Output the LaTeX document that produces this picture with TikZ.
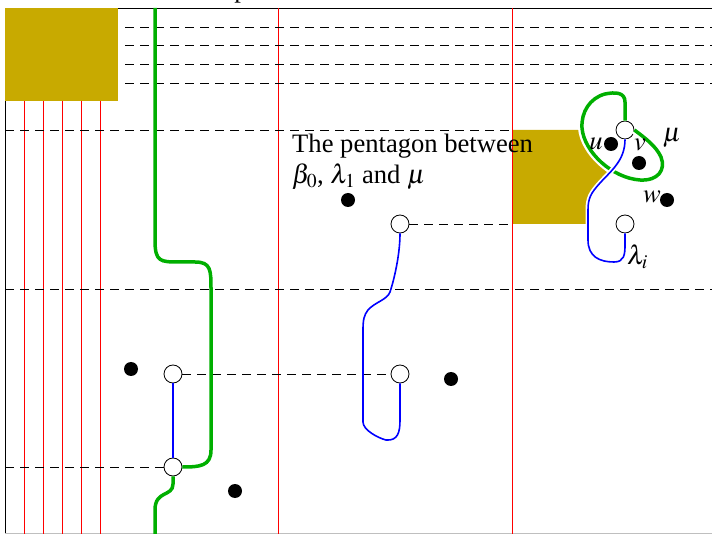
\documentclass[tikz,border=0pt]{standalone}
\usepackage{mathptmx}
\usepackage{fontspec}
\setmainfont{Liberation Serif}
\definecolor{gold}{RGB}{200,170,0}
\definecolor{ggreen}{RGB}{0,175,0}

\begin{document}
\begin{tikzpicture}[x=1pt,y=-1pt,
  whitenode/.style={circle,draw,fill=white,inner sep=0pt,minimum size=18pt,line width=0.8pt},
  blackdot/.style={circle,fill=black,inner sep=0pt,minimum size=14pt},
  hline/.style={dash pattern=on 9pt off 6pt,line width=0.8pt},
  wall/.style={red,line width=0.8pt},
  gpath/.style={ggreen,line width=3.5pt},
  bpath/.style={blue,line width=1.6pt},
  font=\fontsize{26.6}{31}\selectfont]
\useasboundingbox (0,0) rectangle (712,534);
\clip (0,0) rectangle (712,534);
\node[anchor=base] (ptop) at (241,-2) {p};
\draw[line width=0.8pt] (5,534) -- (5,8) -- (712,8);
\draw[gray!50,line width=0.8pt] (5,533.5) -- (712,533.5);
% gold blocks
\fill[gold] (5,8) rectangle (118,101);
\fill[gold] (512,130) -- (582,130) .. controls (586,150) and (598,163) .. (609,174) .. controls (598,185) and (588,195) .. (588,210) -- (588,224) -- (512,224) -- cycle;
% red walls
\foreach \x in {24,43,62,81,100} \draw[wall] (\x,101) -- (\x,534);
\draw[wall] (278,8) -- (278,534);
\draw[wall] (512,8) -- (512,534);
% dashed levels
\foreach \y in {27,45,64,83} \draw[hline] (125,\y) -- (712,\y);
\draw[hline] (5,289) -- (712,289);
\draw[hline] (5,130) -- (512,130);
% sites
\node[whitenode] (a) at (173,374) {};
\node[whitenode] (b) at (173,467) {};
\node[whitenode] (c) at (400,224) {};
\node[whitenode] (d) at (400,374) {};
\node[whitenode] (e) at (625,130) {};
\node[whitenode] (f) at (625,224) {};
\draw[hline] (a) -- (d);
\draw[hline] (c) -- (512,224);
\draw[hline] (5,467) -- (b);
% green paths
\draw[gpath] (155,8) -- (155,240) .. controls (155,262) and (160,262) .. (180,262) -- (195,262) .. controls (211,262) and (211,270) .. (211,290) -- (211,450) .. controls (211,466) and (200,467) .. (b.east);
\draw[gpath] (b.south) -- (173,484) .. controls (173,497) and (155,490) .. (155,510) -- (155,534);
\draw[gpath,preaction={draw=white,line width=8pt}] (e.north) -- (625,102) .. controls (625,92) and (615,92) .. (605,94) .. controls (590,98) and (581,112) .. (582,128) .. controls (584,152) and (612,178) .. (640,180) .. controls (658,181) and (666,170) .. (661,157) .. controls (656,146) and (645,138) .. (e.east);
% blue paths
\draw[bpath] (a) -- (b);
\draw[bpath] (c.south) .. controls (400,255) and (394,280) .. (390,292) .. controls (387,300) and (375,302) .. (368,310) .. controls (364,315) and (363,320) .. (363,330) -- (363,422) .. controls (363,430) and (378,438) .. (386,440) .. controls (398,441) and (400,432) .. (400,420) -- (d.south);
\draw[bpath,preaction={draw=white,line width=5pt}] (e.south) .. controls (625,160) and (612,170) .. (600,183) .. controls (591,193) and (588,198) .. (588,210) -- (588,240) .. controls (588,257) and (600,262) .. (614,262) .. controls (624,262) and (625,255) .. (625,245) -- (f.south);
% points
\node[blackdot] (p1) at (131,369) {};
\node[blackdot] (p2) at (235,491) {};
\node[blackdot] (p3) at (348,200) {};
\node[blackdot] (p4) at (451,379) {};
\node[blackdot] (pu) at (611,144) {};
\node[blackdot] (pv) at (639,163) {};
\node[blackdot] (pw) at (667,200) {};
% labels
\node[anchor=north west,align=left,inner sep=0pt] (caption) at (292,134) {The pentagon between\\$\beta_0$, $\lambda_1$ and $\mu$};
\node[anchor=base,inner sep=0pt] (ulab) at (596,150) {$u$};
\node[anchor=base,inner sep=0pt] (vlab) at (640,151) {$v$};
\node[anchor=base,inner sep=0pt] (wlab) at (652,203) {$w$};
\node[anchor=base,inner sep=0pt] (mulab) at (672,142) {$\mu$};
\node[anchor=base west,inner sep=0pt] (lamlab) at (627,265) {$\lambda_i$};
\end{tikzpicture}
\end{document}
